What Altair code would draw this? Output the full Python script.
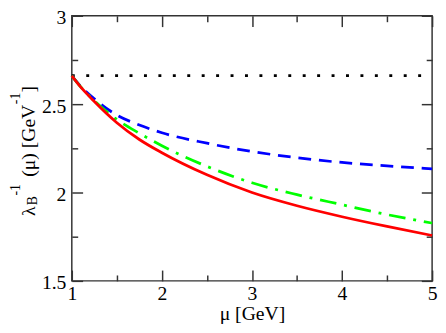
import altair as alt
import pandas as pd

# data
mu = [1.0, 1.1, 1.25, 1.5, 1.75, 2.0, 2.5, 3.0, 3.5, 4.0, 4.5, 5.0]
red = [2.66, 2.596, 2.515, 2.395, 2.30, 2.225, 2.10, 2.0, 1.925, 1.863, 1.808, 1.757]
green = [2.66, 2.597, 2.52, 2.413, 2.335, 2.265, 2.148, 2.055, 1.988, 1.931, 1.875, 1.827]
blue = [2.66, 2.60, 2.53, 2.438, 2.382, 2.338, 2.279, 2.232, 2.197, 2.170, 2.151, 2.134]
dotted_x = [1.0, 5.0]
dotted_y = [2.661, 2.661]

x_major = [1, 2, 3, 4, 5]
x_minor = [1.5, 2.5, 3.5, 4.5]
y_major = [1.5, 2.0, 2.5, 3.0]
y_minor = [1.75, 2.25, 2.75]

rows = []
for name, ys in [("red", red), ("green", green), ("blue", blue)]:
    for xv, yv in zip(mu, ys):
        rows.append({"mu": xv, "lam": yv, "s": name})
for xv, yv in zip(dotted_x, dotted_y):
    rows.append({"mu": xv, "lam": yv, "s": "dot"})
df = pd.DataFrame(rows)

FONT = "Liberation Serif, Times New Roman, Times, serif"
xs = alt.Scale(domain=[1, 5], nice=False, zero=False)
ys_ = alt.Scale(domain=[1.5, 3], nice=False, zero=False)

def line(name, color, dash):
    kw = dict(color=color, strokeWidth=2.8, interpolate="monotone")
    if dash:
        kw["strokeDash"] = dash
    return alt.Chart(df).transform_filter(alt.datum.s == name).mark_line(**kw).encode(
        x=alt.X("mu:Q", scale=xs, axis=None),
        y=alt.Y("lam:Q", scale=ys_, axis=None),
    )

main = alt.Chart(df).transform_filter(alt.datum.s == "dot").mark_point(opacity=0).encode(
    x=alt.X("mu:Q", scale=xs, axis=alt.Axis(
        values=x_major, format="d", ticks=False, tickSize=0, domain=False, grid=False,
        labelFont=FONT, labelFontSize=20, labelColor="black", labelPadding=3,
        labelFlush=False,
        title="μ [GeV]", titleFont=FONT, titleFontSize=20, titleFontWeight="normal",
        titleColor="black", titleBaseline="alphabetic", titleY=39)),
    y=alt.Y("lam:Q", scale=ys_, axis=alt.Axis(
        values=y_major, format="~g", ticks=False, tickSize=0, domain=False, grid=False,
        labelFont=FONT, labelFontSize=20, labelColor="black", labelPadding=6,
        labelOffset=2, labelFlush=False, title=None)),
)

def tick_layer(xorient, yorient, xvals, yvals, size):
    common = dict(labels=False, domain=False, grid=False, title=None, ticks=True,
                  tickSize=size, offset=-size, tickColor="#333333", tickWidth=1.5)
    return alt.Chart(df).transform_filter(alt.datum.s == "dot").mark_point(opacity=0).encode(
        x=alt.X("mu:Q", scale=xs, axis=alt.Axis(orient=xorient, values=xvals, **common)),
        y=alt.Y("lam:Q", scale=ys_, axis=alt.Axis(orient=yorient, values=yvals, **common)),
    )

one = alt.Data(values=[{"a": 1}])

def piece(txt, size, dx, dy):
    return alt.Chart(one).mark_text(
        text=txt, font=FONT, fontSize=size, angle=270, align="left",
        baseline="alphabetic", dx=dx, dy=dy, color="black"
    ).encode(x=alt.value(-38), y=alt.value(204))

chart = alt.layer(
    main,
    tick_layer("bottom", "left", x_major, y_major, 11),
    tick_layer("bottom", "left", x_minor, y_minor, 6),
    tick_layer("top", "right", x_major, y_major, 11),
    tick_layer("top", "right", x_minor, y_minor, 6),
    line("dot", "black", [3, 11.7]),
    line("blue", "#0000ff", [13, 8]),
    line("green", "#00ff00", [17, 8, 3, 8]),
    line("red", "#ff0000", None),
    piece("λ", 20, 0, 0),
    piece("B", 14, 11, 3),
    piece("-1", 14, 21, -15),
    piece("(μ) [GeV", 20, 40, 0),
    piece("-1", 14, 114, -15),
    piece("]", 20, 126, 0),
).resolve_axis(x="independent", y="independent").properties(
    width=367, height=270,
    autosize=alt.AutoSizeParams(type="none"),
    padding={"left": 65, "top": 5, "right": 6, "bottom": 42},
).configure_view(stroke="#333333", strokeWidth=1.5)

chart.save("out.html", embed_options={"renderer": "svg", "actions": False})
